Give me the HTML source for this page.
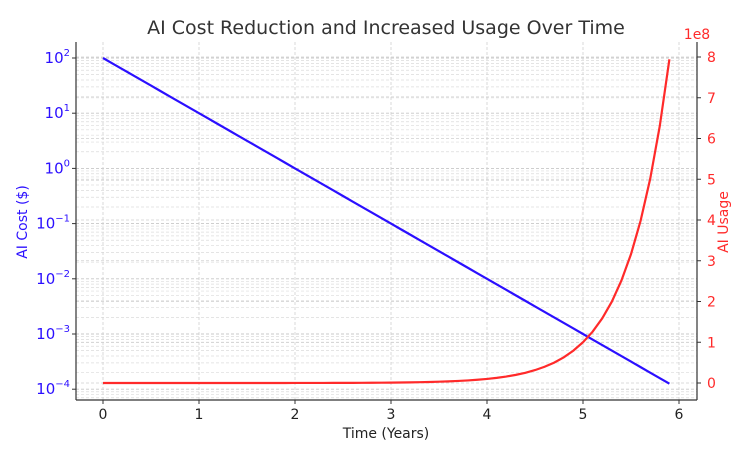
<!DOCTYPE html>
<html><head><meta charset="utf-8"><style>
html,body{margin:0;padding:0;background:#fff;}
svg{display:block;font-family:"DejaVu Sans","Liberation Sans",sans-serif;}
</style></head><body>
<svg id="chart" width="736" height="449" viewBox="0 0 736 449" xmlns="http://www.w3.org/2000/svg">
<g id="grid"></g>
<g id="lines"></g>
<g id="axes"></g>
<text x="386" y="34" text-anchor="middle" font-size="19" fill="#333">AI Cost Reduction and Increased Usage Over Time</text>
<text x="386" y="438" text-anchor="middle" font-size="14" fill="#222">Time (Years)</text>
<text transform="translate(27,222) rotate(-90)" text-anchor="middle" font-size="14" fill="#2b0fff">AI Cost ($)</text>
<text transform="translate(728,222) rotate(-90)" text-anchor="middle" font-size="14" fill="#ff2a2a">AI Usage</text>
<text x="697" y="39" text-anchor="middle" font-size="14" fill="#ff2a2a">1e8</text>
</svg>
<script>
const years=[0,0.1,0.2,0.3,0.4,0.5,0.6,0.7,0.8,0.9,1,1.1,1.2,1.3,1.4,1.5,1.6,1.7,1.8,1.9,2,2.1,2.2,2.3,2.4,2.5,2.6,2.7,2.8,2.9,3,3.1,3.2,3.3,3.4,3.5,3.6,3.7,3.8,3.9,4,4.1,4.2,4.3,4.4,4.5,4.6,4.7,4.8,4.9,5,5.1,5.2,5.3,5.4,5.5,5.6,5.7,5.8,5.9];
const cost=[100,79.43,63.10,50.12,39.81,31.62,25.12,19.95,15.85,12.59,
10,7.943,6.310,5.012,3.981,3.162,2.512,1.995,1.585,1.259,
1,0.7943,0.6310,0.5012,0.3981,0.3162,0.2512,0.1995,0.1585,0.1259,
0.1,0.07943,0.06310,0.05012,0.03981,0.03162,0.02512,0.01995,0.01585,0.01259,
0.01,7.943e-3,6.310e-3,5.012e-3,3.981e-3,3.162e-3,2.512e-3,1.995e-3,1.585e-3,1.259e-3,
1e-3,7.943e-4,6.310e-4,5.012e-4,3.981e-4,3.162e-4,2.512e-4,1.995e-4,1.585e-4,1.259e-4];
const usage=[1e3,1.259e3,1.585e3,1.995e3,2.512e3,3.162e3,3.981e3,5.012e3,6.310e3,7.943e3,
1e4,1.259e4,1.585e4,1.995e4,2.512e4,3.162e4,3.981e4,5.012e4,6.310e4,7.943e4,
1e5,1.259e5,1.585e5,1.995e5,2.512e5,3.162e5,3.981e5,5.012e5,6.310e5,7.943e5,
1e6,1.259e6,1.585e6,1.995e6,2.512e6,3.162e6,3.981e6,5.012e6,6.310e6,7.943e6,
1e7,1.259e7,1.585e7,1.995e7,2.512e7,3.162e7,3.981e7,5.012e7,6.310e7,7.943e7,
1e8,1.259e8,1.585e8,1.995e8,2.512e8,3.162e8,3.981e8,5.012e8,6.310e8,7.943e8];
const xTicks=[0,1,2,3,4,5,6];
const leftExps=[2,1,0,-1,-2,-3,-4];
const rightTicks=[0,1,2,3,4,5,6,7,8];

const NS="http://www.w3.org/2000/svg";
const L=76,R=697,T=42,B=400;
const xs=v=>103+v*96;
const yl=v=>58+(2-Math.log10(v))*55.2;
const yr=v=>383-(v/1e8)*40.75;
function mk(tag,parent,attrs){const e=document.createElementNS(NS,tag);for(const k in attrs)e.setAttribute(k,attrs[k]);parent.appendChild(e);return e;}
const grid=document.getElementById('grid'),lines=document.getElementById('lines'),axes=document.getElementById('axes');

// left log minor/major grid
for(let e=-5;e<=2;e++){for(let m=1;m<10;m++){const v=m*Math.pow(10,e);const y=yl(v);if(y<T||y>B)continue;
const g=mk('line',grid,{x1:L,x2:R,y1:y,y2:y,stroke:m===1?'#c8c8c8':'#dcdcdc','stroke-width':m===1?0.9:0.7,'stroke-dasharray':'3,2'});
}}
// right grid
rightTicks.forEach(t=>{const y=yr(t*1e8);const g=mk('line',grid,{x1:L,x2:R,y1:y,y2:y,stroke:'#cfcfcf','stroke-width':0.8,'stroke-dasharray':'3,2'});
});
// x grid
xTicks.forEach(t=>{const x=xs(t);const g=mk('line',grid,{x1:x,x2:x,y1:T,y2:B,stroke:'#d0d0d0','stroke-width':0.8,'stroke-dasharray':'3,2'});
});

// series
const pc=mk('polyline',lines,{points:years.map((x,i)=>xs(x)+','+yl(cost[i])).join(' '),fill:'none',stroke:'#2b0fff','stroke-width':2.2});

const pu=mk('polyline',lines,{points:years.map((x,i)=>xs(x)+','+yr(usage[i])).join(' '),fill:'none',stroke:'#ff2a2a','stroke-width':2.2});


// spines
[[L,T,L,B],[R,T,R,B],[L,B,R,B]].forEach(s=>{const l=mk('line',axes,{x1:s[0],y1:s[1],x2:s[2],y2:s[3],stroke:'#333','stroke-width':1.2});
});
// x ticks
xTicks.forEach(t=>{const x=xs(t);mk('line',axes,{x1:x,x2:x,y1:B,y2:B+4,stroke:'#333'});
const tx=mk('text',axes,{x:x,y:B+19,'text-anchor':'middle','font-size':14,fill:'#222'});tx.textContent=t;
});
// left ticks
leftExps.forEach(e=>{const y=yl(Math.pow(10,e));mk('line',axes,{x1:L-4,x2:L,y1:y,y2:y,stroke:'#333'});
const tx=mk('text',axes,{x:L-22,y:y+5,'text-anchor':'end','font-size':15,fill:'#2b0fff'});

const a=mk('tspan',tx,{});a.textContent='10';
const b=mk('tspan',tx,{'font-size':10,dy:-7});b.textContent=e<0?'\u2212'+(-e):String(e);
tx.setAttribute('x',L-6);});
// right ticks
rightTicks.forEach(t=>{const y=yr(t*1e8);mk('line',axes,{x1:R,x2:R+4,y1:y,y2:y,stroke:'#333'});
const tx=mk('text',axes,{x:R+10,y:y+5,'font-size':14,fill:'#ff2a2a'});tx.textContent=t;
});
</script>
</body></html>
